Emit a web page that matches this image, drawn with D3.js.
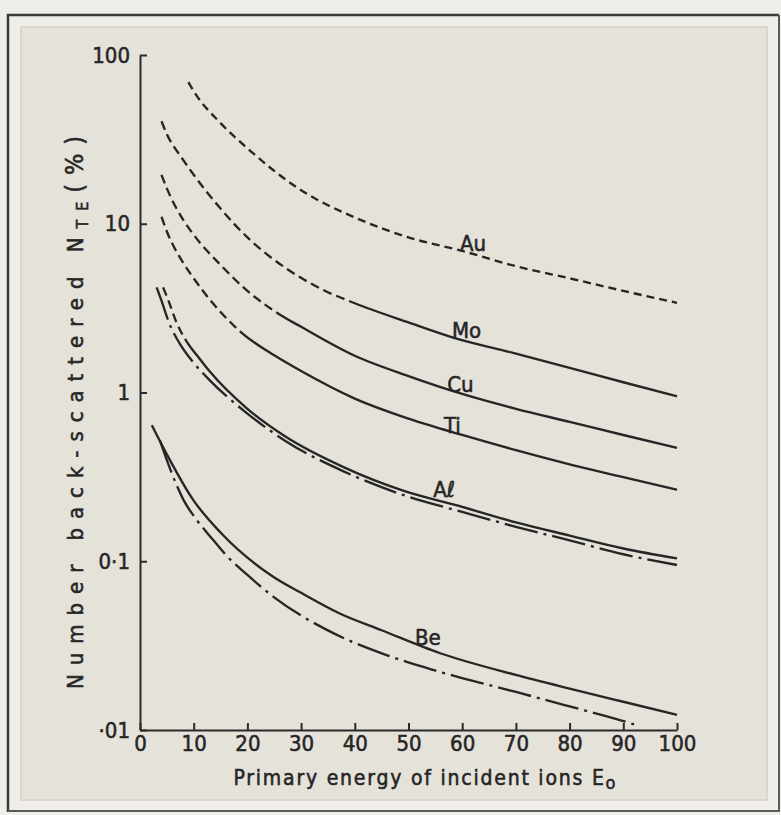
<!DOCTYPE html>
<html>
<head>
<meta charset="utf-8">
<script src="https://cdn.jsdelivr.net/npm/d3@7"></script>
<style>
  body { margin: 0; background: #efeeeb; }
  svg text { font-family: "DejaVu Sans Condensed", "DejaVu Sans", sans-serif; font-stretch: condensed; fill: #262626; stroke: #262626; stroke-width: 0.55px; }
</style>
</head>
<body>
<script>
var svgWidth = 781;
var svgHeight = 815;

// plot box (pixels)
var margin = { top: 55, right: 104, bottom: 85, left: 140 };
var width = 677 - margin.left;
var height = 730 - margin.top;

// y tick labels as printed
var yTicks = [0.01, 0.1, 1, 10, 100];
var yTickLabels = ["·01", "0·1", "1", "10", "100"];
var xTicks = [0, 10, 20, 30, 40, 50, 60, 70, 80, 90, 100];

// curves: energy (E0) and back-scattered number (%)
var auEnergy = [9, 10, 15, 20, 30, 40, 50, 60, 70, 80, 90, 100];
var auYield = [69, 61, 39.5, 28, 15.8, 10.9, 8.3, 6.9, 5.6, 4.75, 4.0, 3.4];

var moEnergy = [4, 5, 8, 10, 15, 20, 27, 34, 40, 50, 58, 70, 80, 90, 100];
var moYield = [40.5, 34, 24, 19.5, 12.3, 8.3, 5.5, 4.07, 3.38, 2.6, 2.13, 1.7, 1.4, 1.15, 0.95];

var cuEnergy = [4, 5, 8, 10, 15, 20, 26, 30, 40, 50, 60, 70, 80, 90, 100];
var cuYield = [19.5, 16.2, 10.6, 8.6, 5.7, 4.0, 2.9, 2.45, 1.65, 1.25, 0.98, 0.8, 0.67, 0.56, 0.47];

var tiEnergy = [4, 5, 8, 10, 13, 15, 19, 25, 30, 40, 50, 60, 70, 80, 90, 100];
var tiYield = [11, 9.0, 5.9, 4.75, 3.55, 3.0, 2.25, 1.66, 1.34, 0.92, 0.7, 0.56, 0.455, 0.375, 0.315, 0.265];

var alEnergy = [4.3, 5.3, 6.8, 8.7, 11, 13, 20, 27, 38, 49, 60, 70, 80, 90, 100];
var alYield = [4.2, 3.5, 2.6, 2.0, 1.6, 1.33, 0.80, 0.55, 0.36, 0.262, 0.21, 0.17, 0.142, 0.119, 0.104];

var al2Energy = [3.1, 4, 5.5, 7.4, 10, 13, 20, 27.3, 38, 49, 60, 70, 80, 90, 100];
var al2Yield = [4.2, 3.5, 2.55, 1.95, 1.5, 1.18, 0.75, 0.511, 0.34, 0.247, 0.196, 0.16, 0.133, 0.11, 0.095];

var beEnergy = [2.2, 5, 9.9, 15, 24.8, 30, 37.2, 45, 55.9, 70, 80, 90, 100];
var beYield = [0.64, 0.43, 0.231, 0.148, 0.081, 0.065, 0.049, 0.039, 0.0285, 0.0212, 0.0176, 0.0147, 0.0123];

var be2Energy = [3.7, 5.5, 8.1, 10.6, 13.6, 16.1, 20, 24.8, 34.8, 45.9, 54.6, 60, 70, 80, 90, 92];
var be2Yield = [0.52, 0.36, 0.231, 0.175, 0.134, 0.108, 0.083, 0.0617, 0.0392, 0.0278, 0.0227, 0.0203, 0.0168, 0.0138, 0.0113, 0.0108];

// which curves, their style and where the dashed (low energy) part stops
var curves = [
  { name: "Au", e: auEnergy, n: auYield, style: "dash", dashUntil: 100 },
  { name: "Mo", e: moEnergy, n: moYield, style: "dash", dashUntil: 40 },
  { name: "Cu", e: cuEnergy, n: cuYield, style: "dash", dashUntil: 26 },
  { name: "Ti", e: tiEnergy, n: tiYield, style: "dash", dashUntil: 19 },
  { name: "Aℓ", e: alEnergy, n: alYield, style: "dash", dashUntil: 8.7 },
  { name: "Al2", e: al2Energy, n: al2Yield, style: "dashdot", dashUntil: 0 },
  { name: "Be", e: beEnergy, n: beYield, style: "solid", dashUntil: 0 },
  { name: "Be2", e: be2Energy, n: be2Yield, style: "dashdot", dashUntil: 0 }
];

// curve labels: name, energy where it sits, small vertical nudge
var labels = [
  { text: "Au", of: "Au", at: 59.6, dy: 1 },
  { text: "Mo", of: "Mo", at: 58.1, dy: 1 },
  { text: "Cu", of: "Cu", at: 57.2, dy: 3 },
  { text: "Ti", of: "Ti", at: 56.6, dy: 4 },
  { text: "Aℓ", of: "Aℓ", at: 54.6, dy: -2 },
  { text: "Be", of: "Be", at: 51.2, dy: 2 }
];

var svg = d3.select("body").append("svg")
  .attr("width", svgWidth)
  .attr("height", svgHeight);

// photographed sheet
svg.append("rect").attr("x", 0).attr("y", 0).attr("width", svgWidth).attr("height", svgHeight).attr("fill", "#efeeeb");
svg.append("rect")
  .attr("x", 21).attr("y", 27).attr("width", 746).attr("height", 773)
  .attr("fill", "#e5e2da").attr("stroke", "#d6d0c3").attr("stroke-width", 1.5);
svg.append("path")
  .attr("d", "M8,812 L8,15 L779,15")
  .attr("fill", "none").attr("stroke", "#3a3a3a").attr("stroke-width", 2.5);
svg.append("path")
  .attr("d", "M8,811 L779,811 L779,15")
  .attr("fill", "none").attr("stroke", "#5a5a5a").attr("stroke-width", 2);

var chartGroup = svg.append("g")
  .attr("transform", `translate(${margin.left}, ${margin.top})`);

var xScale = d3.scaleLinear().domain([0, 100]).range([0, width]);
var yScale = d3.scaleLog().domain([0.01, 100]).range([height, 0]);

var bottomAxis = d3.axisBottom(xScale)
  .tickValues(xTicks)
  .tickSizeInner(-7)
  .tickSizeOuter(0)
  .tickPadding(5)
  .tickFormat(d3.format("d"));

var leftAxis = d3.axisLeft(yScale)
  .tickValues(yTicks)
  .tickSizeInner(-7)
  .tickSizeOuter(0)
  .tickPadding(10)
  .tickFormat((d, i) => yTickLabels[i]);

var xAxis = chartGroup.append("g")
  .attr("transform", `translate(0, ${height})`)
  .call(bottomAxis);

var yAxis = chartGroup.append("g").call(leftAxis);

[xAxis, yAxis].forEach(function(ax) {
  ax.select(".domain").attr("stroke", "#2a2a2a").attr("stroke-width", 2);
  ax.selectAll(".tick line").attr("stroke", "#2a2a2a").attr("stroke-width", 2);
  ax.selectAll(".tick text")
    .attr("fill", "#262626")
    .style("font-family", "'DejaVu Sans Condensed', 'DejaVu Sans', sans-serif")
    .style("font-stretch", "condensed")
    .style("font-size", "22px");
});

var line = d3.line()
  .x(d => xScale(d[0]))
  .y(d => yScale(d[1]))
  .curve(d3.curveMonotoneX);

var dashdot = "34,6,3,6";

curves.forEach(function(c) {
  var pts = c.e.map((e, i) => [e, c.n[i]]);
  var path = chartGroup.append("path")
    .datum(pts)
    .attr("d", line)
    .attr("fill", "none")
    .attr("stroke", "#262626")
    .attr("stroke-width", 2.35);

  if (c.style === "dashdot") {
    path.attr("stroke-dasharray", dashdot);
  } else if (c.dashUntil > c.e[0]) {
    // dashed up to dashUntil, solid after: one smooth path, one dash array
    var node = path.node();
    var total = node.getTotalLength();
    var xBreak = xScale(c.dashUntil);
    var lo = 0, hi = total;
    for (var k = 0; k < 30; k++) {
      var mid = (lo + hi) / 2;
      if (node.getPointAtLength(mid).x < xBreak) lo = mid; else hi = mid;
    }
    var pattern = c.name === "Au" ? [8, 5] : [9, 5];
    var arr = [];
    var len = 0;
    while (len + pattern[0] + pattern[1] <= lo + 1) {
      arr.push(pattern[0], pattern[1]);
      len += pattern[0] + pattern[1];
    }
    if (xBreak < xScale(c.e[c.e.length - 1]) - 1) arr.push(total + 20, 0);
    path.attr("stroke-dasharray", arr.join(","));
  }
});

// value of a curve at a given energy (log interpolation) for label placement
function curveAt(name, e) {
  var c = curves.find(k => k.name === name);
  for (var i = 0; i < c.e.length - 1; i++) {
    if (e >= c.e[i] && e <= c.e[i + 1]) {
      var t = (e - c.e[i]) / (c.e[i + 1] - c.e[i]);
      return Math.pow(10, Math.log10(c.n[i]) * (1 - t) + Math.log10(c.n[i + 1]) * t);
    }
  }
  return c.n[c.n.length - 1];
}

chartGroup.selectAll(".curve-label")
  .data(labels)
  .enter()
  .append("text")
  .attr("class", "curve-label")
  .attr("x", d => xScale(d.at))
  .attr("y", d => yScale(curveAt(d.of, d.at)) + d.dy)
  .style("font-size", "22px")
  .text(d => d.text);

// axis titles
chartGroup.append("text")
  .attr("x", (xScale(0) + xScale(100)) / 2 + 16)
  .attr("y", height + 55)
  .attr("text-anchor", "middle")
  .attr("textLength", 382)
  .attr("lengthAdjust", "spacing")
  .style("font-size", "21px")
  .text("Primary energy of incident ions E")
  .append("tspan")
  .attr("dy", 4)
  .style("font-size", "18px")
  .text("o");

var yTitle = chartGroup.append("text")
  .attr("transform", "rotate(-90)")
  .attr("x", 0 - (height / 2) - 20)
  .attr("y", 0 - margin.left + 83)
  .attr("text-anchor", "middle")
  .attr("textLength", 553)
  .attr("lengthAdjust", "spacing")
  .style("font-size", "22px");

yTitle.append("tspan").text("Number  back-scattered  N");
yTitle.append("tspan").attr("dy", 5).style("font-size", "16px").text("TE");
yTitle.append("tspan").attr("dy", -5).style("font-size", "25px").text("(%)");
</script>
</body>
</html>
